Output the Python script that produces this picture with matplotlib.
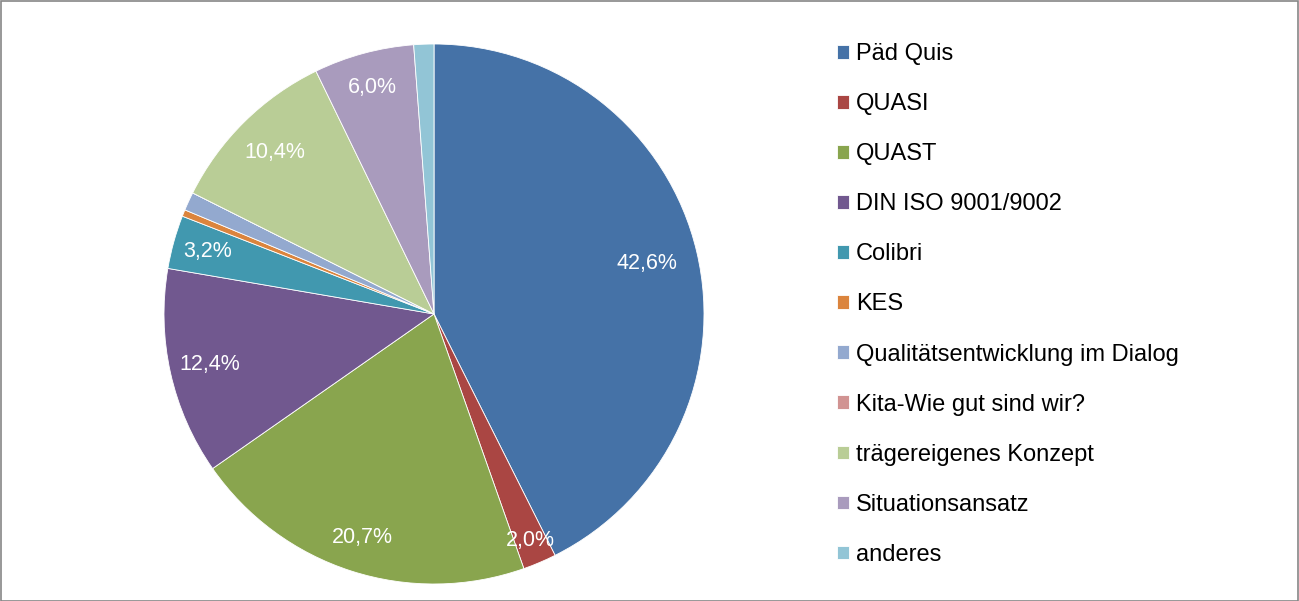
import matplotlib
matplotlib.use("Agg")
import matplotlib.pyplot as plt
import numpy as np
from matplotlib.patches import Rectangle

categories = ["Päd Quis", "QUASI", "QUAST", "DIN ISO 9001/9002", "Colibri", "KES",
              "Qualitätsentwicklung im Dialog", "Kita-Wie gut sind wir?",
              "trägereigenes Konzept", "Situationsansatz", "anderes"]
values = [42.6, 2.0, 20.7, 12.4, 3.2, 0.4, 1.1, 0.0, 10.4, 6.0, 1.2]
colors = ["#4572A7", "#AA4643", "#89A54E", "#71588F", "#4198AF", "#DB843D",
          "#93A9CF", "#D19392", "#B9CD96", "#A99BBD", "#92C5D6"]
label_dist = [0.81, 0.91, 0.87, 0.85, 0.87, 0.85, 0.85, 0.85, 0.84, 0.87, 0.85]

plt.rcParams['font.family'] = ['Liberation Sans', 'DejaVu Sans']

W, H = 1299, 601
fig = plt.figure(figsize=(W / 100, H / 100), dpi=100)

cx, cy, r = 434, 287, 270
ax = fig.add_axes([(cx - r) / W, (cy - r) / H, 2 * r / W, 2 * r / H])
wedges, _ = ax.pie(values, colors=colors, startangle=90, counterclock=False,
                   radius=1.0, wedgeprops=dict(edgecolor="white", linewidth=0.6))
ax.set_xlim(-1, 1)
ax.set_ylim(-1, 1)
ax.set_aspect("equal")
ax.axis("off")

for w, v, d in zip(wedges, values, label_dist):
    if v < 2.0:
        continue
    ang = np.deg2rad((w.theta1 + w.theta2) / 2)
    ax.text(d * np.cos(ang), d * np.sin(ang), f"{v:.1f}%".replace(".", ","),
            color="white", fontsize=15.5, ha="center", va="center")

leg = fig.legend(wedges, categories, loc="upper left",
                 bbox_to_anchor=(837 / W, 1 - 43 / H), frameon=False,
                 fontsize=17, handlelength=0.52, handleheight=0.52,
                 handletextpad=0.27, labelspacing=1.19, borderaxespad=0, borderpad=0)

fig.patches.append(Rectangle((0.5 / W, 0.5 / H), 1 - 1.5 / W, 1 - 1.5 / H,
                             transform=fig.transFigure, fill=False,
                             edgecolor="#868686", linewidth=1.2))

fig.savefig("out.png", dpi=100)
